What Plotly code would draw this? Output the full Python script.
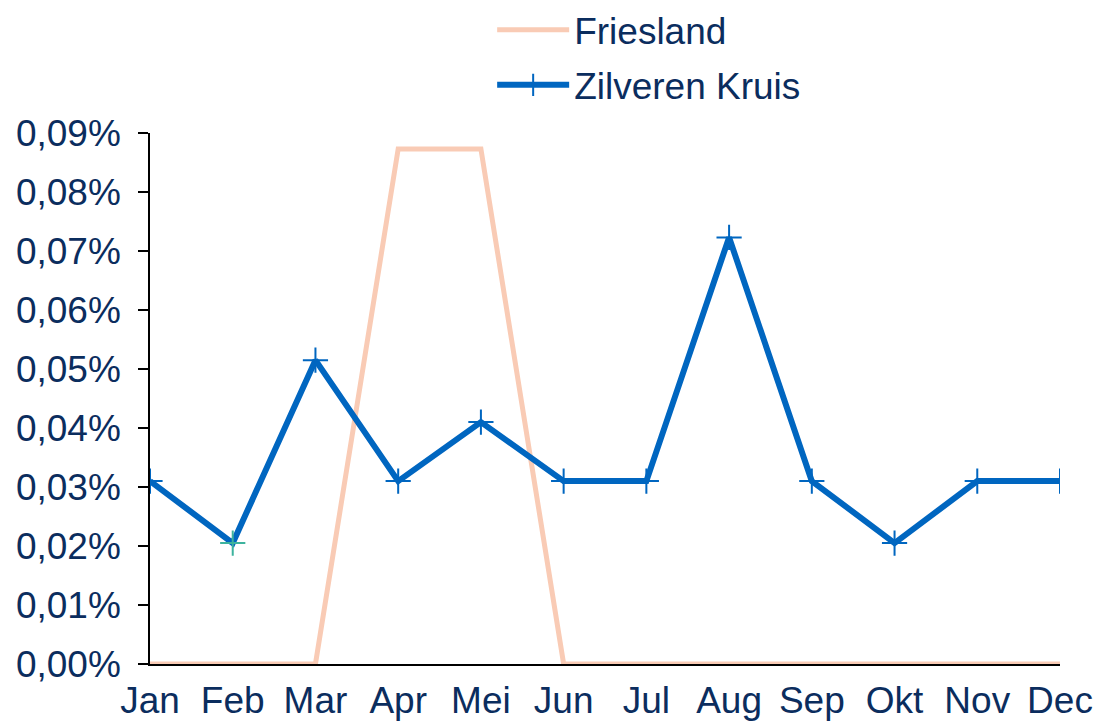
"""
    Maandelijks percentage per verzekeraar
"""

import plotly.graph_objs as go

months = ["Jan", "Feb", "Mar", "Apr", "Mei", "Jun", "Jul", "Aug", "Sep", "Okt", "Nov", "Dec"]
friesland = [0.0, 0.0, 0.0, 0.0873, 0.0873, 0.0, 0.0, 0.0, 0.0, 0.0, 0.0, 0.0]
zilveren_kruis = [0.031, 0.0205, 0.0515, 0.031, 0.041, 0.031, 0.031, 0.0723, 0.031, 0.0205, 0.031, 0.031]

BLUE = "#0066C0"
PEACH = "#F9CBB5"
TEXT = "#0B2D5E"

marker_colors = [BLUE] * len(months)
marker_colors[1] = "#3DB39E"

data = [
    go.Scatter(
        x=months, y=friesland, name="Friesland", mode="lines", legendgroup="f",
        line={"color": PEACH, "width": 5}
    ),
    go.Scatter(
        x=months, y=zilveren_kruis, name="Zilveren Kruis", mode="lines+markers",
        legendgroup="z",
        line={"color": BLUE, "width": 6},
        marker={"symbol": "cross-thin", "size": 18,
                "line": {"color": marker_colors, "width": 2}, "color": BLUE}
    ),
]

layout = go.Layout(
    width=1097, height=721,
    separators=",.",
    font={"family": "Liberation Sans, Arial, sans-serif", "size": 37, "color": TEXT},
    paper_bgcolor="white", plot_bgcolor="white",
    margin={"l": 150, "r": 37, "t": 133, "b": 57, "autoexpand": False},
    showlegend=True,
    legend={"x": 0.376, "y": 1.252, "xanchor": "left", "yanchor": "top",
            "bgcolor": "rgba(0,0,0,0)", "font": {"size": 37, "color": TEXT},
            "itemwidth": 72, "traceorder": "grouped", "tracegroupgap": 4},
    xaxis={"type": "category", "range": [0, 11], "showgrid": False, "zeroline": False,
           "showline": True, "linecolor": "black", "linewidth": 1.5,
           "ticks": "", "ticklabelstandoff": 3},
    yaxis={"range": [0, 0.09], "dtick": 0.01, "tickformat": ".2f", "ticksuffix": "%",
           "showgrid": False, "zeroline": False, "showline": True, "linecolor": "black",
           "linewidth": 1.5, "ticks": "outside", "ticklen": 10, "tickcolor": "black",
           "tickwidth": 1.5, "ticklabelstandoff": 10},
)

fig = go.Figure(data=data, layout=layout)
# page body has a default 8px margin; drop it so the figure fills the window
fig.write_html("out.html", config={"displayModeBar": False},
               post_script="document.body.style.margin = '0';")
